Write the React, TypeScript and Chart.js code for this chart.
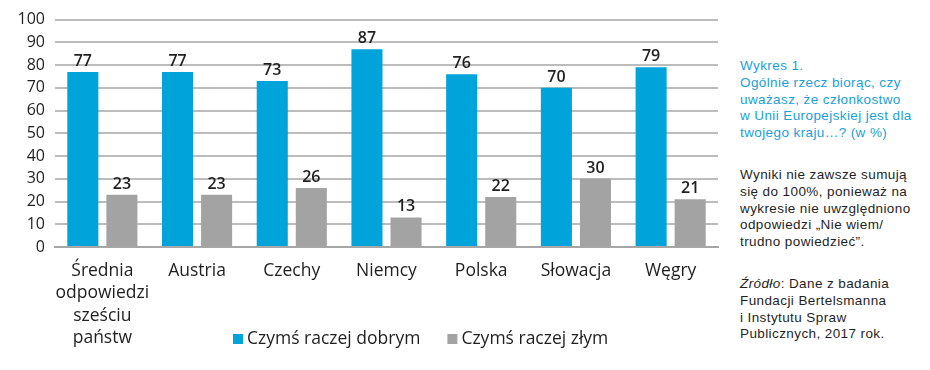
import React, { useEffect, useRef } from "react";
import { Chart, registerables } from "chart.js";

Chart.register(...registerables);

const categories: (string | string[])[] = [
  ["Średnia", "odpowiedzi", "sześciu", "państw"],
  "Austria",
  "Czechy",
  "Niemcy",
  "Polska",
  "Słowacja",
  "Węgry",
];
const goodValues = [77, 77, 73, 87, 76, 70, 79];
const badValues = [23, 23, 26, 13, 22, 30, 21];
const seriesNames = ["Czymś raczej dobrym", "Czymś raczej złym"];
const yTicks = [0, 10, 20, 30, 40, 50, 60, 70, 80, 90, 100];

const BLUE = "#00a3da";
const GRAY = "#a3a3a3";
const FONT = "'Open Sans', sans-serif";
const TEXT = "#1f1f1f";

const valueLabels = {
  id: "valueLabels",
  afterDatasetsDraw(chart: any) {
    const ctx = chart.ctx;
    ctx.save();
    ctx.font = `600 16px ${FONT}`;
    ctx.fillStyle = TEXT;
    ctx.textAlign = "center";
    ctx.textBaseline = "alphabetic";
    chart.data.datasets.forEach((ds: any, i: number) => {
      const meta = chart.getDatasetMeta(i);
      meta.data.forEach((bar: any, j: number) => {
        ctx.fillText(String(ds.data[j]), bar.x, bar.y - 6);
      });
    });
    ctx.restore();
  },
};

// Legend drawn in the space next to the multi-line first category label
const inlineLegend = {
  id: "inlineLegend",
  afterDraw(chart: any) {
    const ctx = chart.ctx;
    ctx.save();
    ctx.font = `17.5px ${FONT}`;
    ctx.textBaseline = "middle";
    ctx.textAlign = "left";
    let x = 233;
    const y = 339;
    const box = 10;
    chart.data.datasets.forEach((ds: any) => {
      ctx.fillStyle = ds.backgroundColor;
      ctx.fillRect(x, y - box / 2, box, box);
      x += box + 4;
      ctx.fillStyle = TEXT;
      ctx.fillText(ds.label, x, y);
      x += ctx.measureText(ds.label).width + 27;
    });
    ctx.restore();
  },
};

export default function App() {
  const ref = useRef<HTMLCanvasElement | null>(null);

  useEffect(() => {
    if (!ref.current) return;
    const chart = new Chart(ref.current, {
      type: "bar",
      data: {
        labels: categories as any,
        datasets: [
          { label: seriesNames[0], data: goodValues, backgroundColor: BLUE },
          { label: seriesNames[1], data: badValues, backgroundColor: GRAY },
        ],
      },
      options: {
        animation: false,
        responsive: false,
        maintainAspectRatio: false,
        layout: { padding: { top: 19, right: 2, bottom: 0, left: 0 } },
        datasets: {
          bar: { categoryPercentage: 0.825, barPercentage: 0.795 },
        },
        plugins: {
          legend: { display: false },
          tooltip: { enabled: false },
        },
        scales: {
          x: {
            grid: { display: false, drawTicks: false },
            border: { color: "#a6a6a6", width: 2 },
            ticks: {
              color: TEXT,
              padding: 13,
              maxRotation: 0,
              autoSkip: false,
              font: { family: FONT, size: 17.5, lineHeight: 1.27 },
            },
            afterFit: (s: any) => {
              s.height = 123;
            },
          },
          y: {
            min: 0,
            max: 100,
            afterBuildTicks: (s: any) => {
              s.ticks = yTicks.map((v) => ({ value: v }));
            },
            grid: { color: "#bcbcbc", lineWidth: 2, drawTicks: false },
            border: { display: false },
            ticks: {
              color: TEXT,
              padding: 10,
              font: { family: FONT, size: 16 },
            },
            afterFit: (s: any) => {
              s.width = 55;
            },
          },
        },
      },
      plugins: [valueLabels, inlineLegend],
    });
    return () => chart.destroy();
  }, []);

  const blue = { color: "#1a9fd8" };
  return (
    <div style={{ position: "absolute", left: 0, top: 0, width: 930, height: 370, background: "#fff" }}>
      <canvas ref={ref} width={720} height={370} style={{ position: "absolute", left: 0, top: 0 }} />
      <div
        style={{
          position: "absolute",
          left: 740,
          top: 58,
          width: 190,
          fontFamily: "'Liberation Sans', Arial, sans-serif",
          fontSize: 13.5,
          letterSpacing: 0.4,
          lineHeight: "16.8px",
          color: TEXT,
          whiteSpace: "nowrap",
        }}
      >
        <div style={blue}>
          Wykres 1.
          <br />
          Ogólnie rzecz biorąc, czy
          <br />
          uważasz, że członkostwo
          <br />
          w Unii Europejskiej jest dla
          <br />
          twojego kraju…? (w %)
        </div>
        <div style={{ marginTop: 25 }}>
          Wyniki nie zawsze sumują
          <br />
          się do 100%, ponieważ na
          <br />
          wykresie nie uwzględniono
          <br />
          odpowiedzi „Nie wiem/
          <br />
          trudno powiedzieć”.
        </div>
        <div style={{ marginTop: 25 }}>
          <i>Źródło</i>: Dane z badania
          <br />
          Fundacji Bertelsmanna
          <br />i Instytutu Spraw
          <br />
          Publicznych, 2017 rok.
        </div>
      </div>
    </div>
  );
}
